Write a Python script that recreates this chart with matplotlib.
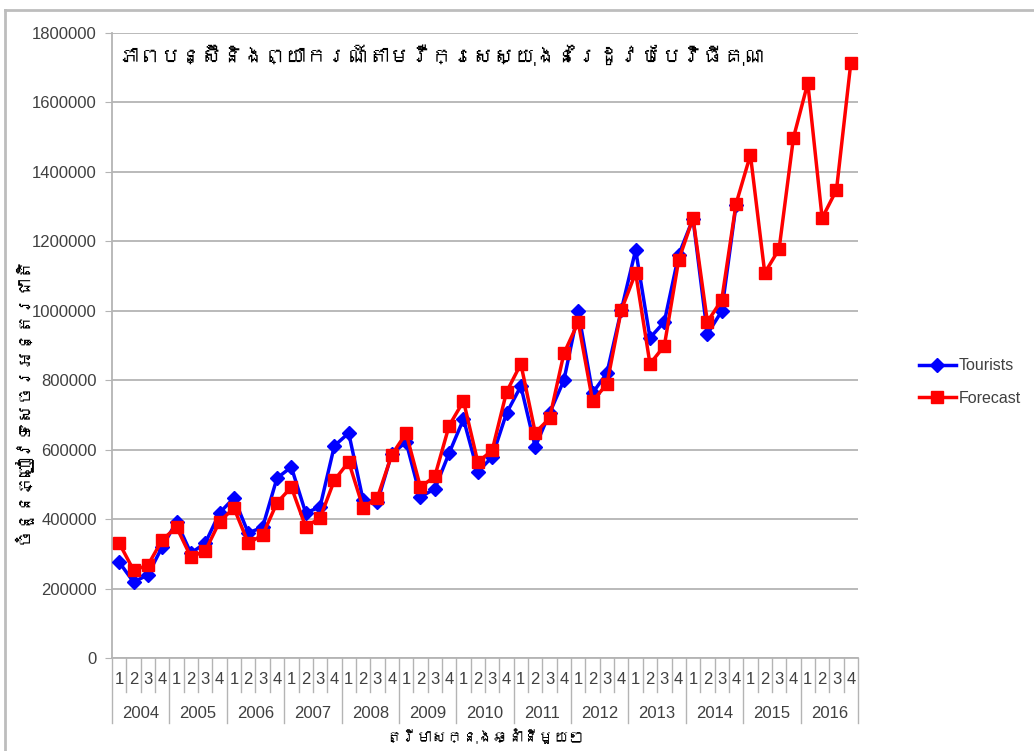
import matplotlib
matplotlib.use("Agg")
import matplotlib.pyplot as plt
from matplotlib import font_manager, ft2font
from matplotlib.lines import Line2D
import numpy as np

years = ["2004", "2005", "2006", "2007", "2008", "2009", "2010",
         "2011", "2012", "2013", "2014", "2015", "2016"]
quarters = ["1", "2", "3", "4"]

# quarterly international arrivals, 2004 Q1 .. 2014 Q4
tourists = [276000, 219000, 239000, 320000,
            392000, 302000, 331000, 418000,
            461000, 360000, 377000, 518000,
            550000, 418000, 435000, 611000,
            648000, 455000, 449000, 588000,
            622000, 464000, 487000, 590000,
            688000, 536000, 579000, 705000,
            783000, 608000, 705000, 800000,
            998000, 763000, 821000, 1002000,
            1175000, 922000, 968000, 1161000,
            1265000, 933000, 999000, 1305000]

# fitted + forecast values, 2004 Q1 .. 2016 Q4
forecast = [331000, 253000, 267000, 340000,
            377000, 291000, 308000, 393000,
            432000, 331000, 354000, 447000,
            492000, 378000, 403000, 512000,
            565000, 433000, 462000, 585000,
            647000, 492000, 523000, 669000,
            740000, 564000, 598000, 766000,
            847000, 649000, 690000, 877000,
            967000, 740000, 789000, 1002000,
            1109000, 847000, 899000, 1146000,
            1267000, 968000, 1031000, 1308000,
            1449000, 1109000, 1178000, 1498000,
            1656000, 1267000, 1348000, 1714000]

title = "ភាពបន្ស៊ីនិងព្យាករណ៍តាមរ៉ឺក្រេសស្យុងនៃរដូវបែបវិធីគុណ"
ylabel = "ចំនួនភ្ញៀវទេសចរអន្តរជាតិ"
xlabel = "ត្រីមាសក្នុងឆ្នាំនីមួយៗ"


def khmer_family():
    # first installed font that has Khmer glyphs
    for f in font_manager.fontManager.ttflist:
        try:
            if 0x1780 in ft2font.FT2Font(f.fname).get_charmap():
                return f.name
        except Exception:
            pass
    return "DejaVu Sans"


kfont = [khmer_family(), "DejaVu Sans"]
plt.rcParams["font.family"] = ["Liberation Sans", "DejaVu Sans"]

W, H = 1034, 751
fig = plt.figure(figsize=(W / 100, H / 100), dpi=100)
ax = fig.add_axes([112 / W, 1 - 658 / H, (858 - 112) / W, (658 - 33) / H])

gray = "#b4b4b4"
txt = "#404040"

x_t = np.arange(len(tourists))
x_f = np.arange(len(forecast))
ax.plot(x_t, tourists, color="#0000ff", lw=2.5, marker="D", ms=7,
        label="Tourists", zorder=3)
ax.plot(x_f, forecast, color="#ff0000", lw=2.5, marker="s", ms=9,
        label="Forecast", zorder=4)

ax.set_xlim(-0.5, len(years) * 4 - 0.5)
ax.set_ylim(0, 1800000)
ax.set_yticks(np.arange(0, 1800001, 200000))
ax.set_yticklabels([str(v) for v in range(0, 1800001, 200000)],
                   fontsize=12, color=txt)
ax.yaxis.grid(True, color=gray, lw=1.3)
ax.set_axisbelow(True)
ax.tick_params(axis="y", length=5, color=gray, pad=6)
ax.set_xticks([])
for s in ["top", "right"]:
    ax.spines[s].set_visible(False)
ax.spines["left"].set_color(gray)
ax.spines["bottom"].set_color(gray)
ax.spines["left"].set_linewidth(1.3)
ax.spines["bottom"].set_linewidth(1.3)

# two-level category axis: quarters on top, years below
tr = ax.get_xaxis_transform()
ph = 658 - 33
for i in range(len(years) * 4 + 1):
    bottom = -(723 - 658) / ph if i % 4 == 0 else -(692 - 658) / ph
    ax.plot([i - 0.5, i - 0.5], [0, bottom], transform=tr, color=gray,
            lw=1.0, clip_on=False)
for yi, yr in enumerate(years):
    for qi, q in enumerate(quarters):
        ax.text(yi * 4 + qi, -(680 - 658) / ph, q, transform=tr,
                ha="center", va="center", fontsize=12, color=txt)
    ax.text(yi * 4 + 1.5, -(713 - 658) / ph, yr, transform=tr,
            ha="center", va="center", fontsize=12, color=txt)

fig.text(118 / W, 1 - 55 / H, title, family=kfont, fontsize=15,
         fontweight="bold", ha="left", va="center", color="black")
fig.text(22 / W, 1 - 400 / H, ylabel, family=kfont, fontsize=13,
         rotation=90, ha="center", va="center", color="black")
fig.text(485 / W, 1 - 736 / H, xlabel, family=kfont, fontsize=11,
         ha="center", va="center", color="black")

ax.legend(loc="center left", bbox_to_anchor=(919 / W, 1 - 382 / H),
          bbox_transform=fig.transFigure, frameon=False, fontsize=11.5,
          handlelength=2.3, labelspacing=1.1, handletextpad=0.2,
          borderpad=0, borderaxespad=0, labelcolor=txt)

# chart frame
fig.add_artist(Line2D([5 / W, 5 / W], [0, 1 - 10 / H], color="#bdbdbd", lw=2))
fig.add_artist(Line2D([5 / W, 1], [1 - 10 / H, 1 - 10 / H], color="#bdbdbd", lw=2))

fig.savefig("out.png", dpi=100)
